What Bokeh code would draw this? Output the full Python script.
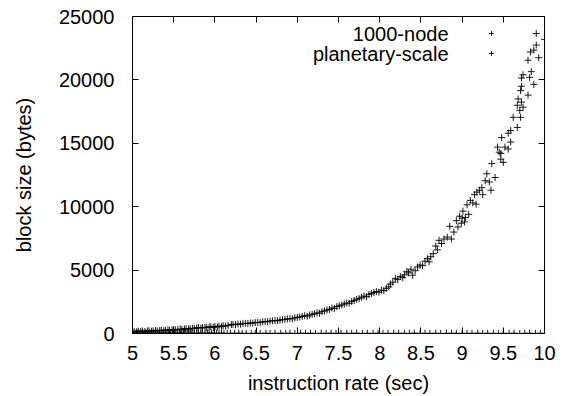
from bokeh.plotting import figure
from bokeh.models import (Range1d, LinearAxis, SingleIntervalTicker, CustomJSTickFormatter,
                          Label, Legend, LegendItem, ColumnDataSource)
from bokeh.embed import file_html
from bokeh.resources import INLINE

# ---- data ----
node_x = [5.00, 5.02, 5.05, 5.07, 5.10, 5.12, 5.15, 5.18, 5.20, 5.23, 5.25, 5.28, 5.30, 5.33,
          5.35, 5.38, 5.40, 5.43, 5.45, 5.48, 5.50, 5.52, 5.55, 5.58, 5.60, 5.63, 5.65, 5.68,
          5.70, 5.73, 5.75, 5.78, 5.80, 5.83, 5.85, 5.88, 5.90, 5.93, 5.95, 5.98, 6.00, 6.03,
          6.05, 6.08, 6.10, 6.13, 6.16, 6.20, 6.22, 6.25, 6.28, 6.31, 6.34, 6.37, 6.40, 6.43,
          6.46, 6.49, 6.52, 6.55, 6.58, 6.61, 6.64, 6.67, 6.70, 6.73, 6.76, 6.79, 6.82, 6.85,
          6.88, 6.91, 6.94, 6.97, 7.00, 7.03, 7.06, 7.09, 7.12, 7.15, 7.18, 7.21, 7.24, 7.27,
          7.30, 7.33, 7.36, 7.39, 7.42, 7.45, 7.48, 7.51, 7.54, 7.57, 7.60, 7.63, 7.66, 7.69,
          7.72, 7.75, 7.78, 7.81, 7.84, 7.87, 7.90, 7.93, 7.96, 7.99, 8.02, 8.05, 8.08, 8.11,
          8.13, 8.16, 8.19, 8.22, 8.25, 8.28, 8.30, 8.33, 8.35, 8.38, 8.40, 8.43, 8.46, 8.49,
          8.52, 8.55, 8.58, 8.60, 8.62, 8.65, 8.68, 8.70, 8.72, 8.75, 8.78, 8.82, 8.85, 8.87,
          8.90, 8.93, 8.95, 8.97, 8.99, 9.00, 9.01, 9.03, 9.04, 9.06, 9.08, 9.10, 9.13, 9.15,
          9.17, 9.18, 9.21, 9.24, 9.25, 9.28, 9.30, 9.33, 9.35, 9.36, 9.40, 9.43, 9.45, 9.47,
          9.47, 9.48, 9.50, 9.52, 9.56, 9.56, 9.59, 9.59, 9.62, 9.67, 9.67, 9.68, 9.70, 9.71,
          9.71, 9.72, 9.72, 9.72, 9.74, 9.74, 9.80, 9.80, 9.82, 9.83, 9.84, 9.87, 9.87, 9.90,
          9.90, 9.93, 10.00]
node_y = [150, 170, 130, 180, 160, 200, 150, 190, 220, 180, 210, 240, 200, 230,
          260, 220, 260, 290, 250, 290, 320, 280, 320, 350, 310, 350, 380, 340,
          380, 420, 390, 440, 470, 430, 470, 500, 460, 500, 530, 490, 560, 520,
          580, 550, 610, 580, 640, 700, 720, 700, 750, 730, 780, 800, 790, 830,
          820, 860, 880, 870, 920, 940, 930, 980, 1000, 1020, 1010, 1060, 1090, 1110,
          1150, 1170, 1160, 1230, 1270, 1300, 1350, 1400, 1370, 1460, 1510, 1560, 1620, 1600,
          1720, 1780, 1850, 1900, 2010, 1980, 2120, 2180, 2250, 2330, 2400, 2380, 2520, 2600,
          2700, 2750, 2860, 2950, 2900, 3080, 3150, 3230, 3300, 3260, 3420, 3380, 3560, 3680,
          3900, 4050, 4350, 4250, 4500, 4400, 4620, 4900, 4780, 5070, 4600, 4950, 5250, 5400,
          5350, 5700, 5900, 5650, 6050, 6300, 6900, 6600, 7350, 7100, 7450, 7600, 8450, 7450,
          8000, 8900, 8400, 9250, 8700, 9100, 9650, 8800, 9150, 10150, 9400, 10500, 10300, 10950,
          10200, 11150, 11300, 11500, 10950, 12050, 12600, 11950, 11300, 13400, 12300, 14700, 14300, 14200,
          13750, 15450, 13500, 14700, 14550, 15800, 16000, 15100, 17050, 18000, 16250, 18500, 17600, 19150,
          17050, 20150, 19500, 18250, 20400, 17850, 18800, 21550, 20200, 22200, 20650, 22350, 19650, 23650,
          22750, 21750, 23200]

planet_x = [5.00, 5.02, 5.04, 5.06, 5.09, 5.11, 5.13, 5.16, 5.18, 5.21, 5.23, 5.26, 5.28, 5.31,
            5.33, 5.36, 5.38, 5.41, 5.44, 5.46, 5.49, 5.51, 5.54, 5.57, 5.59, 5.62, 5.64, 5.67,
            5.70, 5.72, 5.75, 5.78, 5.80, 5.83, 5.85, 5.88, 5.91, 5.93, 5.96, 5.99, 6.02, 6.05,
            6.08, 6.11, 6.15, 6.19, 6.24, 6.29, 6.33, 6.38, 6.44, 6.49, 6.55, 6.62, 6.67, 6.73,
            6.80, 6.86, 6.91, 6.97, 7.04, 7.10, 7.16, 7.22, 7.29, 7.35, 7.41, 7.47, 7.53, 7.60,
            7.66, 7.72, 7.79, 7.85, 7.92, 7.98, 8.04, 8.10, 8.17, 8.23, 8.30, 8.36, 8.42, 8.49,
            8.55, 8.61, 8.68, 8.74, 8.81, 8.87, 8.93, 9.00, 9.06, 9.12, 9.19, 9.25, 9.31, 9.38,
            9.44, 9.50, 9.57, 9.63, 9.70, 9.76, 9.82, 9.89, 9.95, 10.00]
planet_y = [10, 25, 5, 30, 15, 0, 20, 40, 8, 28, 12, 35, 3, 22,
            18, 38, 6, 26, 14, 32, 9, 24, 2, 36, 16, 11, 29, 7,
            21, 33, 4, 19, 27, 13, 37, 1, 23, 17, 31, 10, 25, 5,
            30, 15, 0, 20, 12, 28, 8, 18, 3, 22, 14, 26, 6, 16,
            24, 9, 19, 2, 27, 11, 21, 7, 17, 13, 25, 4, 20, 10,
            15, 29, 6, 18, 12, 23, 3, 16, 9, 21, 14, 5, 26, 11,
            19, 8, 24, 2, 17, 13, 22, 7, 15, 10, 28, 4, 20, 12,
            6, 18, 9, 25, 3, 14, 21, 8, 16, 11]

series_labels = ["1000-node", "planetary-scale"]
x_label = "instruction rate (sec)"
y_label = "block size (bytes)"

FONT = "Liberation Sans"
FS = "20px"

p = figure(width=567, height=396, output_backend="svg", toolbar_location=None,
           x_range=Range1d(5, 10), y_range=Range1d(0, 25000),
           min_border_left=132, min_border_right=23, min_border_top=16, min_border_bottom=63)
p.grid.visible = False
p.background_fill_color = "white"
p.border_fill_color = "white"
p.outline_line_color = "black"
p.outline_line_width = 1

fmt = CustomJSTickFormatter(code="return tick.toString();")
blank = CustomJSTickFormatter(code="return '';")

for ax in p.xaxis:
    ax.ticker = SingleIntervalTicker(interval=0.5)
    ax.formatter = fmt
for ax in p.yaxis:
    ax.ticker = SingleIntervalTicker(interval=5000)

for ax in list(p.xaxis) + list(p.yaxis):
    ax.major_tick_in = 6
    ax.major_tick_out = 0
    ax.minor_tick_line_color = None
    ax.axis_line_color = "black"
    ax.major_tick_line_color = "black"
    ax.major_label_text_font = FONT
    ax.major_label_text_font_size = FS
    ax.major_label_text_color = "black"
    ax.axis_label_text_font = FONT
    ax.axis_label_text_font_size = FS
    ax.axis_label_text_font_style = "normal"
    ax.axis_label_text_color = "black"

p.xaxis.axis_label = x_label
p.yaxis.axis_label = y_label
p.xaxis.major_label_standoff = 8
p.xaxis.axis_label_standoff = 9
p.yaxis.major_label_standoff = 14
p.yaxis.axis_label_standoff = 21

# mirror ticks on top and right
top = LinearAxis(ticker=SingleIntervalTicker(interval=0.5), formatter=blank,
                 major_tick_in=6, major_tick_out=0, minor_tick_line_color=None,
                 major_label_text_font_size="0px", major_label_standoff=0)
right = LinearAxis(ticker=SingleIntervalTicker(interval=5000), formatter=blank,
                   major_tick_in=6, major_tick_out=0, minor_tick_line_color=None,
                   major_label_text_font_size="0px", major_label_standoff=0)
p.add_layout(top, "above")
p.add_layout(right, "right")

src1 = ColumnDataSource(dict(x=node_x, y=node_y))
src2 = ColumnDataSource(dict(x=planet_x, y=planet_y))
r1 = p.scatter("x", "y", source=src1, marker="cross", size=7, line_color="black",
               line_width=1, line_alpha=0.9)
r2 = p.scatter("x", "y", source=src2, marker="cross", size=7, line_color="black",
               line_width=1, line_alpha=0.9)

# gnuplot-style key: right-aligned text, sample to the right
legend = Legend(items=[LegendItem(label=" ", renderers=[r1]),
                       LegendItem(label=" ", renderers=[r2])],
                location=(353, 270), orientation="vertical",
                padding=0, spacing=0, margin=0, glyph_width=12, glyph_height=20,
                label_width=0, label_height=20, label_standoff=0,
                label_text_font_size="1px",
                border_line_color=None, background_fill_alpha=0)
p.add_layout(legend)

for i, lab in enumerate(series_labels):
    p.add_layout(Label(x=316, y=300 - 20 * i, x_units="screen", y_units="screen",
                       text=lab, text_align="right", text_baseline="middle",
                       text_font=FONT, text_font_size=FS, text_color="black"))

open("out.html", "w").write(file_html(p, INLINE))
